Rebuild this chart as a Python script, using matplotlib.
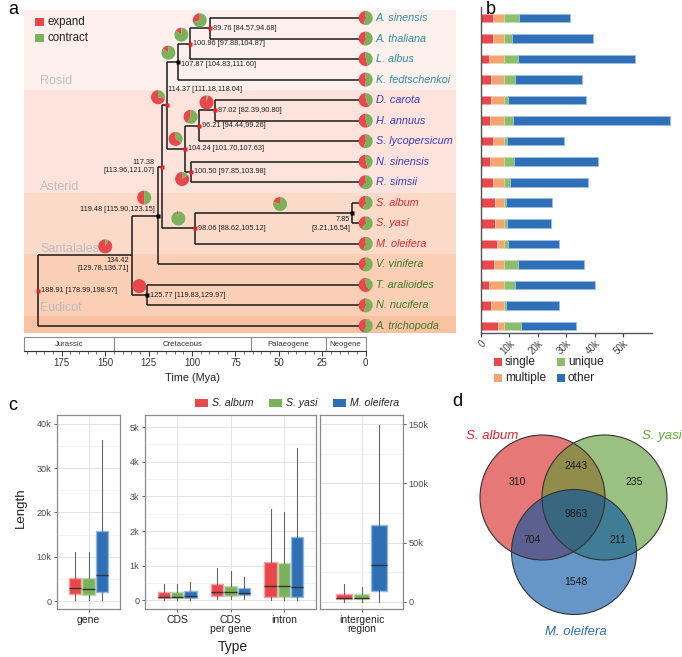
import numpy as np
import matplotlib
matplotlib.use('Agg')
import matplotlib.pyplot as plt
from matplotlib.patches import Wedge, Rectangle, Circle
from matplotlib import transforms
from matplotlib.ticker import FuncFormatter, MultipleLocator, FixedLocator

plt.rcParams['font.family'] = ['Liberation Sans', 'DejaVu Sans']

# ------------------------------------------------------------------ data
species = ['A. sinensis', 'A. thaliana', 'L. albus', 'K. fedtschenkoi', 'D. carota',
           'H. annuus', 'S. lycopersicum', 'N. sinensis', 'R. simsii', 'S. album',
           'S. yasi', 'M. oleifera', 'V. vinifera', 'T. aralioides', 'N. nucifera',
           'A. trichopoda']
species_group = ['Rosid'] * 4 + ['Asterid'] * 5 + ['Santalales'] * 3 + ['Other'] * 4
tip_expand = [0.45, 0.45, 0.55, 0.50, 0.58, 0.55, 0.45, 0.55, 0.40, 0.42, 0.40, 0.45,
              0.42, 0.60, 0.45, 0.45]

node_ids = ['root', 'n134', 'n119', 'n117', 'n114', 'n107', 'n100a', 'n89', 'n104',
            'n96', 'n87', 'n100b', 'n98', 'n7', 'n125']
node_age = [188.91, 134.42, 119.48, 117.38, 114.37, 107.87, 100.96, 89.76, 104.24,
            96.21, 87.02, 100.50, 98.06, 7.85, 125.77]
node_lo = [178.99, 129.78, 115.90, 113.96, 111.18, 104.83, 97.88, 84.57, 101.70,
           94.44, 82.39, 97.85, 88.62, 3.21, 119.83]
node_hi = [198.97, 136.71, 123.15, 121.07, 118.04, 111.60, 104.87, 94.68, 107.63,
           99.26, 90.80, 103.98, 105.12, 16.54, 129.97]
node_children = [('n134', 'A. trichopoda'), ('n119', 'n125'), ('n117', 'V. vinifera'),
                 ('n114', 'n98'), ('n107', 'n104'), ('n100a', 'K. fedtschenkoi'),
                 ('n89', 'L. albus'), ('A. sinensis', 'A. thaliana'), ('n96', 'n100b'),
                 ('n87', 'S. lycopersicum'), ('D. carota', 'H. annuus'),
                 ('N. sinensis', 'R. simsii'), ('n7', 'M. oleifera'),
                 ('S. album', 'S. yasi'), ('T. aralioides', 'N. nucifera')]
node_expand = [None, 0.93, 0.50, None, 0.72, 0.15, 0.15, 0.30, 0.65, 0.42, 0.97,
               0.85, 0.04, 0.20, 1.00]

clades = ['Rosid', 'Asterid', 'Santalales', 'Eudicot', '']
clade_first = [0, 4, 9, 12, 15]
clade_last = [3, 8, 11, 14, 15]

periods = ['Jurassic', 'Cretaceous', 'Palaeogene', 'Neogene']
period_start = [201.3, 145.0, 66.0, 23.03]
period_end = [145.0, 66.0, 23.03, 0.0]
time_ticks = [175, 150, 125, 100, 75, 50, 25, 0]

# panel b (thousands of genes)
bar_single = [4.35, 4.35, 2.9, 3.5, 3.65, 3.06, 4.35, 3.2, 4.35, 4.8, 5.06, 5.5, 4.6, 2.8, 3.65, 6.0]
bar_multiple = [3.65, 3.65, 5.1, 4.5, 4.35, 4.94, 3.65, 4.8, 3.65, 3.2, 2.94, 2.5, 3.4, 5.2, 4.35, 2.0]
bar_unique = [5.3, 2.8, 5.1, 3.8, 1.4, 3.2, 1.06, 3.6, 2.2, 0.8, 1.3, 1.5, 4.9, 4.0, 0.7, 5.9]
bar_other = [18.0, 28.6, 41.2, 23.6, 27.7, 55.2, 20.1, 29.7, 27.3, 16.0, 15.2, 18.0, 23.5, 28.2, 18.6, 19.5]
bar_series = ['single', 'multiple', 'unique', 'other']

# panel c: box stats (whislo, q1, med, q3, whishi) in bp
genomes = ['S. album', 'S. yasi', 'M. oleifera']
box_gene = [(300, 1600, 3000, 5200, 11100), (200, 1400, 2700, 5100, 11000),
            (300, 2000, 5900, 15700, 36300)]
box_cds = [(0, 75, 110, 230, 460), (0, 75, 110, 230, 460), (0, 75, 120, 260, 530)]
box_cds_gene = [(40, 130, 230, 460, 920), (40, 130, 230, 420, 850), (30, 140, 210, 350, 680)]
box_intron = [(0, 100, 410, 1120, 2650), (0, 100, 410, 1090, 2550), (0, 100, 380, 1820, 4400)]
box_intergenic = [(0, 2000, 3600, 6800, 14700), (0, 2000, 3400, 6500, 12400),
                  (0, 8700, 31400, 65300, 149500)]

# panel d
venn_labels = ['S. album', 'S. yasi', 'M. oleifera']
venn_only = [310, 235, 1548]
venn_pairs = {'ab': 2443, 'ac': 704, 'bc': 211}
venn_all = 9863

# ------------------------------------------------------------------ style
RED = '#e8474c'
GREEN = '#7cb15b'
BLUE = '#2f6fb6'
W, H = 682, 657
fig = plt.figure(figsize=(W / 100, H / 100), dpi=100)


def add_ax(x0, y0, x1, y1, **kw):
    return fig.add_axes([x0 / W, 1 - y1 / H, (x1 - x0) / W, (y1 - y0) / H], **kw)


# ------------------------------------------------------------------ panel a
T_LEFT, T_RIGHT = 196.72, -51.99
Y_TOP, Y_BOT = -0.39, 15.343
ax = add_ax(24, 10, 456, 333)
ax.set_xlim(T_LEFT, T_RIGHT)
ax.set_ylim(Y_BOT, Y_TOP)
ax.axis('off')

band_colors = ['#fdf0ed', '#fde3db', '#fcdac9', '#fbceb6', '#f9c3a3']
band_text_dy = [0.43, 0.27, 0.25, 0.37, 0]
for k, (name, a, b) in enumerate(zip(clades, clade_first, clade_last)):
    lo = Y_TOP if a == 0 else a - 0.5
    hi = Y_BOT if b == 15 else b + 0.5
    ax.axhspan(lo, hi, color=band_colors[k], lw=0, zorder=0)
    if name:
        ax.text(187.4, b + 0.5 - band_text_dy[k], name, fontsize=9, color='#bdbdbd',
                ha='left', va='center', zorder=1)

age = dict(zip(node_ids, node_age))
for s in species:
    age[s] = 0.0
ypos = {s: i for i, s in enumerate(species)}
child_map = dict(zip(node_ids, node_children))


def get_y(n):
    if n in ypos:
        return ypos[n]
    c = child_map[n]
    ys = [get_y(x) for x in c]
    ypos[n] = (min(ys) + max(ys)) / 2
    return ypos[n]


get_y('root')
for n in node_ids:
    cs = child_map[n]
    cy = [ypos[c] for c in cs]
    ax.plot([age[n], age[n]], [min(cy), max(cy)], color='#1a1a1a', lw=1.1, zorder=2,
            solid_capstyle='butt')
    for c in cs:
        ax.plot([age[n], age[c]], [ypos[c], ypos[c]], color='#1a1a1a', lw=1.1, zorder=2,
                solid_capstyle='butt')


def pie(x, y, frac, dx=0, dy=0, r=7):
    tr = fig.dpi_scale_trans + transforms.ScaledTranslation(x, y, ax.transData)
    c = (dx / 100, -dy / 100)
    if frac > 0.001:
        ax.add_patch(Wedge(c, r / 100, 90, 90 + 360 * min(frac, 1), facecolor=RED,
                           lw=0, transform=tr, zorder=5, clip_on=False))
    if frac < 0.999:
        ax.add_patch(Wedge(c, r / 100, 90 + 360 * frac, 450, facecolor=GREEN,
                           lw=0, transform=tr, zorder=5, clip_on=False))


pie_off = {'n89': (-10, -8), 'n100a': (-9, -9), 'n107': (-10, -9), 'n114': (-9, -8),
           'n87': (-8, -8), 'n96': (-8, -9), 'n104': (-9, -10), 'n100b': (-9, 7),
           'n119': (-14, -18), 'n98': (-17, -10), 'n7': (-72, -9), 'n134': (-27, -9),
           'n125': (-8, -9)}
dot_color = {'root': '#e8202a', 'n117': '#e8202a', 'n114': '#e8202a', 'n100a': '#e8202a',
             'n89': '#e8202a', 'n104': '#e8202a', 'n96': '#e8202a', 'n87': '#e8202a',
             'n100b': '#e8202a', 'n98': '#e8202a', 'n107': 'black', 'n119': 'black',
             'n7': 'black', 'n125': 'black'}
# label placement: (ha, dx, dy, two_lines)
lab_style = {'root': ('left', 3, 0, False), 'n134': ('right', -3, 9, True),
             'n119': ('right', -3, -6, False), 'n117': ('right', -7, 0, True),
             'n114': ('left', 1, -16, False), 'n7': ('right', -2, 11, True),
             'n107': ('left', 3, 3, False)}

for n, a, lo, hi, fr in zip(node_ids, node_age, node_lo, node_hi, node_expand):
    y = ypos[n]
    if n in dot_color:
        ax.plot([a], [y], marker='s', ms=2.8, color=dot_color[n], mec='none', zorder=4)
    ha, dx, dy, two = lab_style.get(n, ('left', 3, 0, False))
    txt = f'{a:.2f}' + ('\n' if two else ' ') + f'[{lo:.2f},{hi:.2f}]'
    ax.annotate(txt, (a, y), xytext=(dx, -dy), textcoords='offset pixels', ha=ha,
                va='center', fontsize=5.3, color='#222222', zorder=6, linespacing=1.25,
                multialignment='right' if ha == 'right' else 'left')
    if fr is not None:
        pdx, pdy = pie_off[n]
        pie(a, y, fr, pdx, pdy)

grp_color = {'Rosid': '#2f8d9e', 'Asterid': '#3a3ac4', 'Santalales': '#e52a2f',
             'Other': '#3a7a26'}
for i, (s, g, fr) in enumerate(zip(species, species_group, tip_expand)):
    pie(0, i, fr)
    ax.annotate(s, (0, i), xytext=(10, 0), textcoords='offset pixels', ha='left',
                va='center', fontsize=7.8, style='italic', color=grp_color[g], zorder=6)

# timescale
axt = add_ax(24, 337, 456, 351)
axt.set_xlim(T_LEFT, T_RIGHT)
axt.set_ylim(0, 1)
for nm, s, e in zip(periods, period_start, period_end):
    s = min(s, T_LEFT)
    axt.add_patch(Rectangle((e, 0), s - e, 1, facecolor='white', edgecolor='#8c8c8c',
                            lw=0.8, clip_on=False))
    axt.text((s + e) / 2, 0.5, nm, ha='center', va='center', fontsize=5.6,
             color='#333333')
for sp in ['left', 'right', 'top']:
    axt.spines[sp].set_visible(False)
axt.spines['bottom'].set_bounds(0, T_LEFT)
axt.spines['bottom'].set_color('#333333')
axt.spines['bottom'].set_linewidth(0.8)
axt.set_yticks([])
axt.xaxis.set_major_locator(FixedLocator(time_ticks))
axt.xaxis.set_minor_locator(FixedLocator(np.arange(0, 196, 5)))
axt.tick_params(axis='x', which='major', length=3.5, width=0.7, labelsize=7,
                pad=1.5, colors='#333333')
axt.tick_params(axis='x', which='minor', length=1.8, width=0.5, colors='#333333')
axt.set_xlabel('Time (Mya)', fontsize=7.8, labelpad=2, color='#222222')
axt.xaxis.set_label_coords((192 - 24) / 432, -1.55)
axt.patch.set_alpha(0)

# ------------------------------------------------------------------ panel b
axb = add_ax(481, 7, 680, 333)
axb.set_xlim(0, 70000)
axb.set_ylim(Y_BOT, -0.536)
bar_cols = {'single': RED, 'multiple': '#f4a571', 'unique': '#8dbf6b', 'other': '#3070b8'}
edge_cols = {'single': '#f3a1a3', 'multiple': '#f9cfb4', 'unique': '#c3ddb2', 'other': '#9cbfe3'}
left = np.zeros(len(species))
yy = np.arange(len(species))
for name, vals in zip(bar_series, [bar_single, bar_multiple, bar_unique, bar_other]):
    v = np.array(vals) * 1000
    axb.barh(yy, v, left=left, height=0.42, color=bar_cols[name],
             edgecolor=edge_cols[name], lw=0.6)
    left += v
for sp in ['right', 'top']:
    axb.spines[sp].set_visible(False)
for sp in ['left', 'bottom']:
    axb.spines[sp].set_color('#555555')
    axb.spines[sp].set_linewidth(1)
axb.spines['bottom'].set_bounds(0, 60200)
axb.set_yticks([])
axb.set_xticks([0, 10000, 20000, 30000, 40000, 50000])
axb.xaxis.set_major_formatter(FuncFormatter(lambda v, p: '0' if v == 0 else f'{int(v/1000)}k'))
axb.tick_params(axis='x', length=3, width=0.8, colors='#444444', labelsize=7, pad=1)
for lb in axb.get_xticklabels():
    lb.set_rotation(45)
    lb.set_ha('right')
    lb.set_va('top')
    lb.set_rotation_mode('anchor')
axb.patch.set_alpha(0)

# ------------------------------------------------------------------ panel c
kfmt = FuncFormatter(lambda v, p: '0' if abs(v) < 1e-9 else f'{v/1000:g}k')
c_cols = [RED, GREEN, BLUE]
c_edge = ['#f4a3a6', '#bedcad', '#94b9e0']


def box_panel(rect, groups, labels, ylim, major, minor, right=False):
    a = add_ax(*rect)
    ncat = len(groups)
    a.set_xlim(0.4, ncat + 0.6)
    a.set_ylim(*ylim)
    for gi, grp in enumerate(groups):
        for si, st in enumerate(grp):
            lo, q1, med, q3, hi = st
            s = dict(whislo=lo, q1=q1, med=med, q3=q3, whishi=hi, fliers=[])
            a.bxp([s], positions=[gi + 1 + (si - 1) * 0.25], widths=0.23,
                  showfliers=False, showcaps=False, patch_artist=True, manage_ticks=False,
                  boxprops=dict(facecolor=c_cols[si], edgecolor=c_edge[si], lw=1),
                  medianprops=dict(color='#333333', lw=1),
                  whiskerprops=dict(color='#666666', lw=0.8), zorder=3)
    a.set_xticks(np.arange(1, ncat + 1))
    a.set_xticklabels(labels, fontsize=7.5, color='#222222', linespacing=0.95)
    a.yaxis.set_major_locator(MultipleLocator(major))
    a.yaxis.set_minor_locator(MultipleLocator(minor))
    a.yaxis.set_major_formatter(kfmt)
    a.grid(True, which='major', color='#e3e3e3', lw=0.7, zorder=0)
    a.grid(True, which='minor', axis='y', color='#f0f0f0', lw=0.5, zorder=0)
    a.set_axisbelow(True)
    a.tick_params(axis='both', which='major', length=2.5, width=0.6, colors='#4d4d4d',
                  labelsize=6.6, pad=1.5)
    a.tick_params(axis='x', labelcolor='#222222', labelsize=7.5)
    a.tick_params(axis='y', which='minor', length=0)
    for sp in a.spines.values():
        sp.set_color('#8a8a8a')
        sp.set_linewidth(0.9)
    if right:
        a.yaxis.tick_right()
    return a


box_panel((57, 415, 120, 609), [box_gene], ['gene'], (-1800, 42000), 10000, 5000)
box_panel((145, 415, 316, 609), [box_cds, box_cds_gene, box_intron],
          ['CDS', 'CDS\nper gene', 'intron'], (-250, 5350), 1000, 500)
box_panel((320, 415, 403, 609), [box_intergenic], ['intergenic\nregion'],
          (-6100, 157900), 50000, 25000, right=True)

# ------------------------------------------------------------------ overlay (labels, legends, venn)
ao = fig.add_axes([0, 0, 1, 1], zorder=20)
ao.set_xlim(0, W)
ao.set_ylim(H, 0)
ao.axis('off')
ao.patch.set_alpha(0)

for lab, (x, y) in zip('abcd', [(8, 10), (486, 9), (8, 406), (452, 402)]):
    ao.text(x, y, lab, fontsize=13, ha='left', va='center', color='black')

# expand / contract legend
for k, (nm, col) in enumerate(zip(['expand', 'contract'], [RED, GREEN])):
    y = 22 + 16 * k
    ao.add_patch(Rectangle((35, y - 4.5), 8.5, 8.5, facecolor=col, lw=0))
    ao.text(48, y, nm, fontsize=8.3, va='center', ha='left', color='#222222')

# panel b legend
for k, name in enumerate(bar_series):
    col = k // 2 if False else None
for name, (x, y) in zip(bar_series, [(494, 362), (494, 378), (557, 362), (557, 378)]):
    ao.add_patch(Rectangle((x, y - 4), 8, 8, facecolor=bar_cols[name], lw=0))
    ao.text(x + 11, y, name, fontsize=8.6, va='center', ha='left', color='#222222')

# panel c legend
for g, col, x in zip(genomes, c_cols, [195, 269, 333]):
    ao.add_patch(Rectangle((x, 399), 13, 8, facecolor=col, lw=0))
    ao.text(x + 17, 403, g, fontsize=7.6, style='italic', va='center', ha='left',
            color='#222222')
ao.text(21, 508, 'Length', rotation=90, fontsize=9.5, va='center', ha='center',
        color='#222222')
ao.text(233, 647, 'Type', fontsize=10, va='center', ha='center', color='#222222')

# panel d venn
v_centers = [(542.5, 497.5), (604.5, 497.5), (574, 552)]
v_fill = [(0.843, 0.118, 0.118), (0.345, 0.596, 0.184), (0.0, 0.314, 0.64)]
v_text_col = ['#e8202a', '#5cb03a', '#2e6db4']
for c, col in zip(v_centers, v_fill):
    ao.add_patch(Circle(c, 62.5, facecolor=col, alpha=0.6, lw=0))
for c in v_centers:
    ao.add_patch(Circle(c, 62.5, facecolor='none', edgecolor='#333333', lw=0.8))
num_pos = {'a': (517, 482), 'b': (634, 482), 'c': (576, 582), 'ab': (576, 466),
           'ac': (532, 540), 'bc': (618, 540), 'abc': (576, 514)}
for key, v in zip('abc', venn_only):
    ao.text(*num_pos[key], str(v), fontsize=7.5, ha='center', va='center', color='#1a1a1a')
for key, v in venn_pairs.items():
    ao.text(*num_pos[key], str(v), fontsize=7.5, ha='center', va='center', color='#1a1a1a')
ao.text(*num_pos['abc'], str(venn_all), fontsize=7.5, ha='center', va='center',
        color='#1a1a1a')
for lab, col, (x, y, ha) in zip(venn_labels, v_text_col,
                                [(466, 436, 'left'), (642, 436, 'left'), (576, 632, 'center')]):
    ao.text(x, y, lab, fontsize=9.5, style='italic', color=col, ha=ha, va='center')

fig.savefig('out.png', dpi=100)
